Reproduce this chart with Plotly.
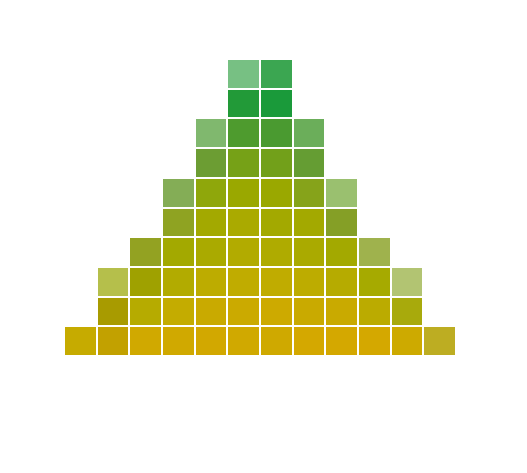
import plotly.graph_objects as go

columns = list(range(12))
levels = list(range(10))  # bottom row = level 0

N = None
# colour value (0 = gold, 1 = green) per cell, rows from bottom to top
value = [
    [0.08, 0.04, 0.02, 0.02, 0.01, 0.02, 0.03, 0.00, 0.00, 0.00, 0.04, 0.12],
    [N, 0.15, 0.17, 0.09, 0.06, 0.05, 0.04, 0.06, 0.06, 0.14, 0.25, N],
    [N, 0.32, 0.25, 0.19, 0.13, 0.11, 0.11, 0.13, 0.17, 0.26, 0.45, N],
    [N, N, 0.36, 0.28, 0.24, 0.19, 0.21, 0.24, 0.28, 0.42, N, N],
    [N, N, N, 0.40, 0.28, 0.24, 0.28, 0.28, 0.45, N, N, N],
    [N, N, N, 0.62, 0.40, 0.33, 0.33, 0.45, 0.62, N, N, N],
    [N, N, N, N, 0.62, 0.53, 0.55, 0.65, N, N, N, N],
    [N, N, N, N, 0.75, 0.73, 0.75, 0.77, N, N, N, N],
    [N, N, N, N, N, 0.96, 1.00, N, N, N, N, N],
    [N, N, N, N, N, 0.95, 0.97, N, N, N, N, N],
]
# opacity per cell, rows from bottom to top
opacity = [
    [1.0, 1.0, 1.0, 1.0, 1.0, 1.0, 1.0, 1.0, 1.0, 1.0, 1.0, 0.86],
    [N, 1.0, 1.0, 1.0, 1.0, 1.0, 1.0, 1.0, 1.0, 1.0, 0.95, N],
    [N, 0.70, 1.0, 1.0, 1.0, 1.0, 1.0, 1.0, 1.0, 1.0, 0.56, N],
    [N, N, 0.85, 1.0, 1.0, 1.0, 1.0, 1.0, 1.0, 0.70, N, N],
    [N, N, N, 0.88, 1.0, 1.0, 1.0, 1.0, 0.88, N, N, N],
    [N, N, N, 0.74, 0.98, 1.0, 1.0, 0.94, 0.65, N, N, N],
    [N, N, N, N, 0.90, 1.0, 1.0, 0.92, N, N, N, N],
    [N, N, N, N, 0.70, 1.0, 1.0, 0.80, N, N, N, N],
    [N, N, N, N, N, 1.0, 1.0, N, N, N, N, N],
    [N, N, N, N, N, 0.62, 0.88, N, N, N, N, N],
]
# shade (darkening) per cell, rows from bottom to top
shade = [
    [0.0, 0.05, 0.0, 0.0, 0.0, 0.0, 0.0, 0.0, 0.0, 0.0, 0.0, 0.05],
    [N, 0.09, 0.0, 0.0, 0.0, 0.0, 0.0, 0.0, 0.0, 0.0, 0.02, N],
    [N, 0.02, 0.05, 0.0, 0.0, 0.0, 0.0, 0.0, 0.0, 0.0, 0.04, N],
    [N, N, 0.10, 0.0, 0.0, 0.0, 0.0, 0.0, 0.0, 0.07, N, N],
    [N, N, N, 0.07, 0.0, 0.0, 0.0, 0.0, 0.09, N, N, N],
    [N, N, N, 0.05, 0.0, 0.0, 0.0, 0.03, 0.0, N, N, N],
    [N, N, N, N, 0.06, 0.0, 0.0, 0.04, N, N, N, N],
    [N, N, N, N, 0.0, 0.0, 0.0, 0.0, N, N, N, N],
    [N, N, N, N, N, 0.0, 0.0, N, N, N, N, N],
    [N, N, N, N, N, 0.0, 0.0, N, N, N, N, N],
]

gold_green = [
    [0.0, "#d4a800"],
    [0.1, "#c2ac00"],
    [0.25, "#a8aa00"],
    [0.35, "#96a800"],
    [0.55, "#72a01a"],
    [0.75, "#4a9a30"],
    [1.0, "#1a9a3a"],
]
fade = [[0.0, "rgba(255,255,255,1)"], [1.0, "rgba(255,255,255,0)"]]
dark = [[0.0, "rgba(0,0,0,0)"], [1.0, "rgba(0,0,0,1)"]]

fig = go.Figure()
fig.add_trace(go.Heatmap(
    x=columns, y=levels, z=value,
    colorscale=gold_green, zmin=0, zmax=1,
    xgap=2, ygap=2, showscale=False, hoverongaps=False,
))
fig.add_trace(go.Heatmap(
    x=columns, y=levels, z=opacity,
    colorscale=fade, zmin=0, zmax=1,
    xgap=2, ygap=2, showscale=False, hoverongaps=False,
))
fig.add_trace(go.Heatmap(
    x=columns, y=levels, z=shade,
    colorscale=dark, zmin=0, zmax=1,
    xgap=2, ygap=2, showscale=False, hoverongaps=False,
))
fig.update_xaxes(visible=False, range=[-0.5, 11.5])
fig.update_yaxes(visible=False, range=[-0.5, 9.5])
fig.update_layout(
    width=527, height=473,
    margin=dict(l=64, r=71, t=59, b=117),
    plot_bgcolor="white", paper_bgcolor="white",
)
fig.write_html("out.html")
